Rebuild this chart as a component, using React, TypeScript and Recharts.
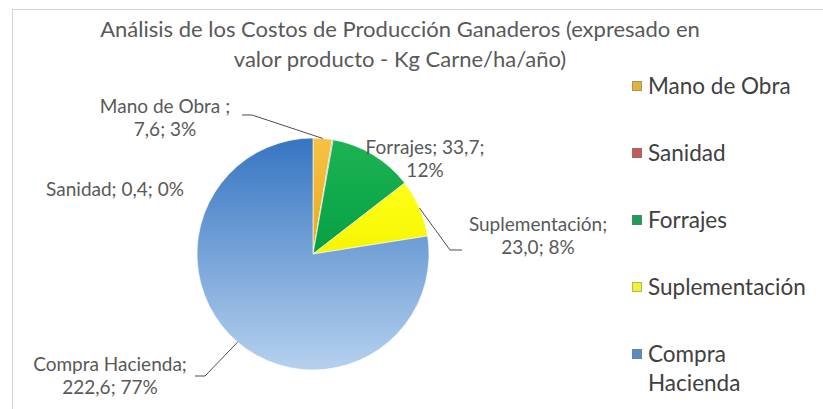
import { PieChart, Pie, Cell, Legend } from 'recharts';

// Costos de producción (Kg Carne/ha/año)
const categories = ['Mano de Obra', 'Sanidad', 'Forrajes', 'Suplementación', 'Compra Hacienda'];
const values = [7.6, 0.4, 33.7, 23.0, 222.6];
const valueLabels = ['7,6', '0,4', '33,7', '23,0', '222,6'];
const percentLabels = ['3%', '0%', '12%', '8%', '77%'];

const titleLines = [
  'Análisis de los Costos de Producción Ganaderos (expresado en',
  'valor producto - Kg Carne/ha/año)',
];

const gradients = [
  ['#f6c245', '#e9a91c'],
  ['#d0605c', '#b0403c'],
  ['#1cb352', '#06a044'],
  ['#ffff1a', '#f5f500'],
  ['#3675c2', '#b6d1ee'],
];
const legendColors = ['#e3b23c', '#c65a5a', '#1f9c55', '#f2f23a', '#5a8cc6'];

// manual label placement (Excel style), relative to the pie centre
const labelLayout = [
  { lines: (i: number) => [`${categories[i]} ;`, `${valueLabels[i]}; ${percentLabels[i]}`], dx: -148, dy: -149, leader: [[-61, -139], [-71, -139]] },
  { lines: (i: number) => [`${categories[i]}; ${valueLabels[i]}; ${percentLabels[i]}`], dx: -198, dy: -66, leader: null },
  { lines: (i: number) => [`${categories[i]}; ${valueLabels[i]};`, percentLabels[i]], dx: 112, dy: -108, leader: null },
  { lines: (i: number) => [`${categories[i]};`, `${valueLabels[i]}; ${percentLabels[i]}`], dx: 225, dy: -31, leader: [[137, -4], [149, -4]] },
  { lines: (i: number) => [`${categories[i]};`, `${valueLabels[i]}; ${percentLabels[i]}`], dx: -203, dy: 109, leader: [[-108, 122], [-118, 122]] },
];

const data = categories.map((name, i) => ({ name, value: values[i] }));

const FONT = 'Lato, "Open Sans", sans-serif';
const RAD = Math.PI / 180;

function renderLabel(props: any) {
  const { cx, cy, midAngle, outerRadius, index } = props;
  const cfg = labelLayout[index];
  const lines = cfg.lines(index);
  const ex = cx + outerRadius * Math.cos(-midAngle * RAD);
  const ey = cy + outerRadius * Math.sin(-midAngle * RAD);
  return (
    <g key={`lbl-${index}`}>
      {cfg.leader && (
        <polyline
          points={[[ex, ey], ...cfg.leader.map(([x, y]) => [cx + x, cy + y])].map((p) => p.join(',')).join(' ')}
          fill="none"
          stroke="#4d4d4d"
          strokeWidth={1}
        />
      )}
      {lines.map((t: string, j: number) => (
        <text
          key={j}
          x={cx + cfg.dx}
          y={cy + cfg.dy + j * 23}
          textAnchor="middle"
          dominantBaseline="central"
          fontFamily={FONT}
          fontSize={19}
          fill="#595959"
        >
          {t}
        </text>
      ))}
    </g>
  );
}

function renderLegend(props: any) {
  const payload = [...(props.payload || [])].sort(
    (a: any, b: any) => categories.indexOf(a.value) - categories.indexOf(b.value)
  );
  return (
    <div style={{ fontFamily: FONT, fontSize: 22.5, color: '#404040' }}>
      {payload.map((entry: any) => {
        const i = categories.indexOf(entry.value);
        return (
          <div key={entry.value} style={{ height: 67, paddingTop: 19, boxSizing: 'border-box', display: 'flex', alignItems: 'flex-start' }}>
            <div style={{ width: 10, height: 10, marginTop: 10, marginRight: 6, background: legendColors[i], border: '1px solid rgba(120,120,120,0.5)', boxSizing: 'border-box', flex: 'none' }} />
            <div style={{ lineHeight: '29px', width: 168 }}>{entry.value}</div>
          </div>
        );
      })}
    </div>
  );
}

export default function App() {
  return (
    <div style={{ position: 'absolute', left: 0, top: 0, width: 823, height: 409, background: '#fff', overflow: 'hidden' }}>
      <div style={{ position: 'absolute', left: 12, top: 9, width: 830, height: 420, border: '1px solid #d4d4d4' }} />
      <div
        style={{
          position: 'absolute',
          left: 0,
          top: 14,
          width: 800,
          textAlign: 'center',
          fontFamily: FONT,
          fontSize: 22,
          lineHeight: '30px',
          color: '#595959',
        }}
      >
        {titleLines.map((t, i) => (
          <div key={i}>{t}</div>
        ))}
      </div>
      <PieChart width={823} height={409} style={{ position: 'absolute', left: 0, top: 0 }}>
        <defs>
          {gradients.map(([a, b], i) => (
            <linearGradient key={i} id={`slice${i}`} x1="0" y1="0" x2="0" y2="1">
              <stop offset="0%" stopColor={a} />
              <stop offset="100%" stopColor={b} />
            </linearGradient>
          ))}
        </defs>
        <Pie
          data={data}
          dataKey="value"
          nameKey="name"
          cx={308}
          cy={249}
          outerRadius={116}
          startAngle={90}
          endAngle={-270}
          stroke="rgba(255,255,255,0.6)"
          strokeWidth={1}
          label={renderLabel}
          labelLine={false}
          isAnimationActive={false}
        >
          {data.map((d, i) => (
            <Cell key={d.name} fill={`url(#slice${i})`} />
          ))}
        </Pie>
        <Legend
          layout="vertical"
          content={renderLegend}
          wrapperStyle={{ position: 'absolute', left: 632, top: 52, width: 190 }}
        />
      </PieChart>
    </div>
  );
}
